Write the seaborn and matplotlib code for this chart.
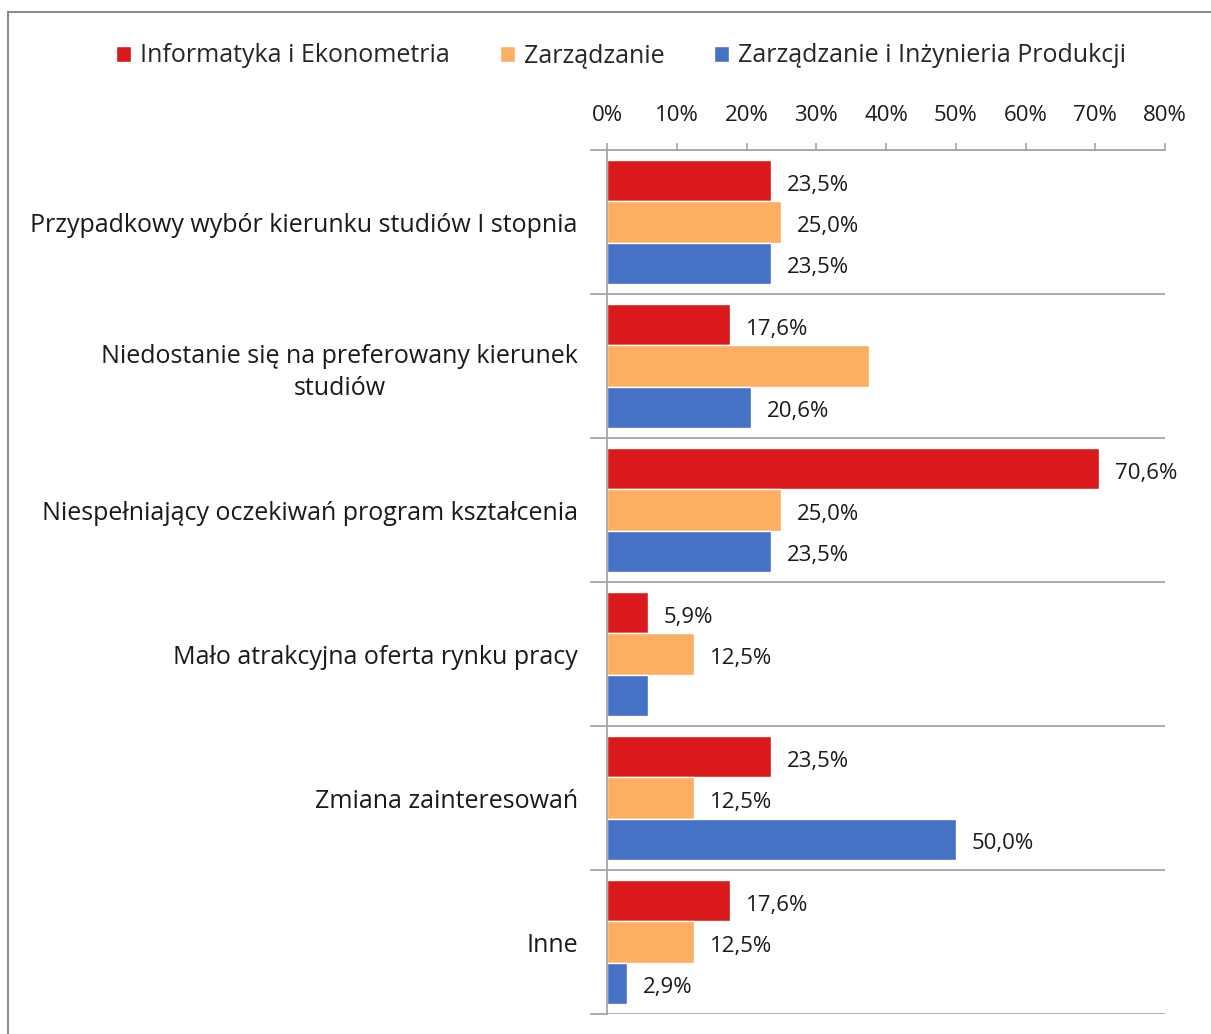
import matplotlib
matplotlib.use("Agg")
import matplotlib.pyplot as plt
from matplotlib.patches import Rectangle
import seaborn as sns
import pandas as pd

# data (percent)
categories = [
    "Przypadkowy wybór kierunku studiów I stopnia",
    "Niedostanie się na preferowany kierunek\nstudiów",
    "Niespełniający oczekiwań program kształcenia",
    "Mało atrakcyjna oferta rynku pracy",
    "Zmiana zainteresowań",
    "Inne",
]
series = ["Informatyka i Ekonometria", "Zarządzanie", "Zarządzanie i Inżynieria Produkcji"]
informatyka = [23.5, 17.6, 70.6, 5.9, 23.5, 17.6]
zarzadzanie = [25.0, 37.5, 25.0, 12.5, 12.5, 12.5]
zarz_inz = [23.5, 20.6, 23.5, 5.9, 50.0, 2.9]
# the original leaves out two of the data labels
show_inf = [True, True, True, True, True, True]
show_zarz = [True, False, True, True, True, True]
show_zip = [True, True, True, False, True, True]
ticks = [0, 10, 20, 30, 40, 50, 60, 70, 80]

colors = ["#D9191C", "#FDAE61", "#4472C4"]

rows = []
for vals, name in zip([informatyka, zarzadzanie, zarz_inz], series):
    for cat, v in zip(categories, vals):
        rows.append({"kat": cat, "seria": name, "val": v})
df = pd.DataFrame(rows)

sns.set_style("white")
plt.rcParams["font.family"] = ["Open Sans", "DejaVu Sans"]
plt.rcParams["font.size"] = 16

fig = plt.figure(figsize=(12.11, 10.34), dpi=100)
ax = fig.add_axes([607 / 1211, 1 - 1014 / 1034, 558 / 1211, 864 / 1034])

sns.barplot(data=df, y="kat", x="val", hue="seria", order=categories,
            hue_order=series, palette=colors, orient="h", width=0.855,
            saturation=1, ax=ax, legend=True)

# data labels
shows = [show_inf, show_zarz, show_zip]
for cont, vals, show in zip(ax.containers, [informatyka, zarzadzanie, zarz_inz], shows):
    for bar, v, s in zip(cont, vals, show):
        if not s:
            continue
        y = bar.get_y() + bar.get_height() / 2
        ax.annotate(f"{v:.1f}%".replace(".", ","), (bar.get_width(), y),
                    xytext=(11.5, -3), textcoords="offset points",
                    va="center", ha="left", fontsize=16, color="#1a1a1a")

ax.set_xlim(0, 80)
ax.set_ylim(len(categories) - 0.5, -0.5)
ax.set_xticks(ticks)
ax.set_xticklabels([f"{t}%" for t in ticks])
ax.xaxis.tick_top()
ax.xaxis.set_label_position("top")
ax.set_xlabel("")
ax.set_ylabel("")

# boundaries between categories
bounds = [i - 0.5 for i in range(len(categories) + 1)]
ax.set_yticks(bounds, minor=True)
for b in bounds:
    ax.axhline(b, color="#A6A6A6", lw=1.3, zorder=0)

ax.tick_params(axis="x", which="major", direction="out", length=5, width=1.2,
               color="#A6A6A6", pad=12, labelsize=16, labelcolor="#1a1a1a")
ax.tick_params(axis="y", which="major", length=0, pad=21, labelsize=18,
               labelcolor="#1a1a1a")
ax.tick_params(axis="y", which="minor", direction="out", length=12, width=1.3,
               color="#A6A6A6", left=True)
for lab in ax.get_yticklabels():
    lab.set_multialignment("center")
    lab.set_linespacing(1.35)

for side in ["right", "bottom"]:
    ax.spines[side].set_visible(False)
for side in ["left", "top"]:
    ax.spines[side].set_color("#A6A6A6")
    ax.spines[side].set_linewidth(1.3)

handles, labels = ax.get_legend_handles_labels()
ax.get_legend().remove()
fig.legend(handles, labels, loc="center", bbox_to_anchor=(0.513, 1 - 56 / 1034),
           ncol=3, frameon=False, fontsize=18, handlelength=0.6, handleheight=0.6,
           handletextpad=0.35, columnspacing=2.0)

# outer chart frame
fig.add_artist(Rectangle((8 / 1211, -0.05), 1.1, 1 - 12 / 1034 + 0.05,
                         transform=fig.transFigure, fill=False,
                         edgecolor="#8C8C8C", lw=1.5))

fig.savefig("out.png", dpi=100)
